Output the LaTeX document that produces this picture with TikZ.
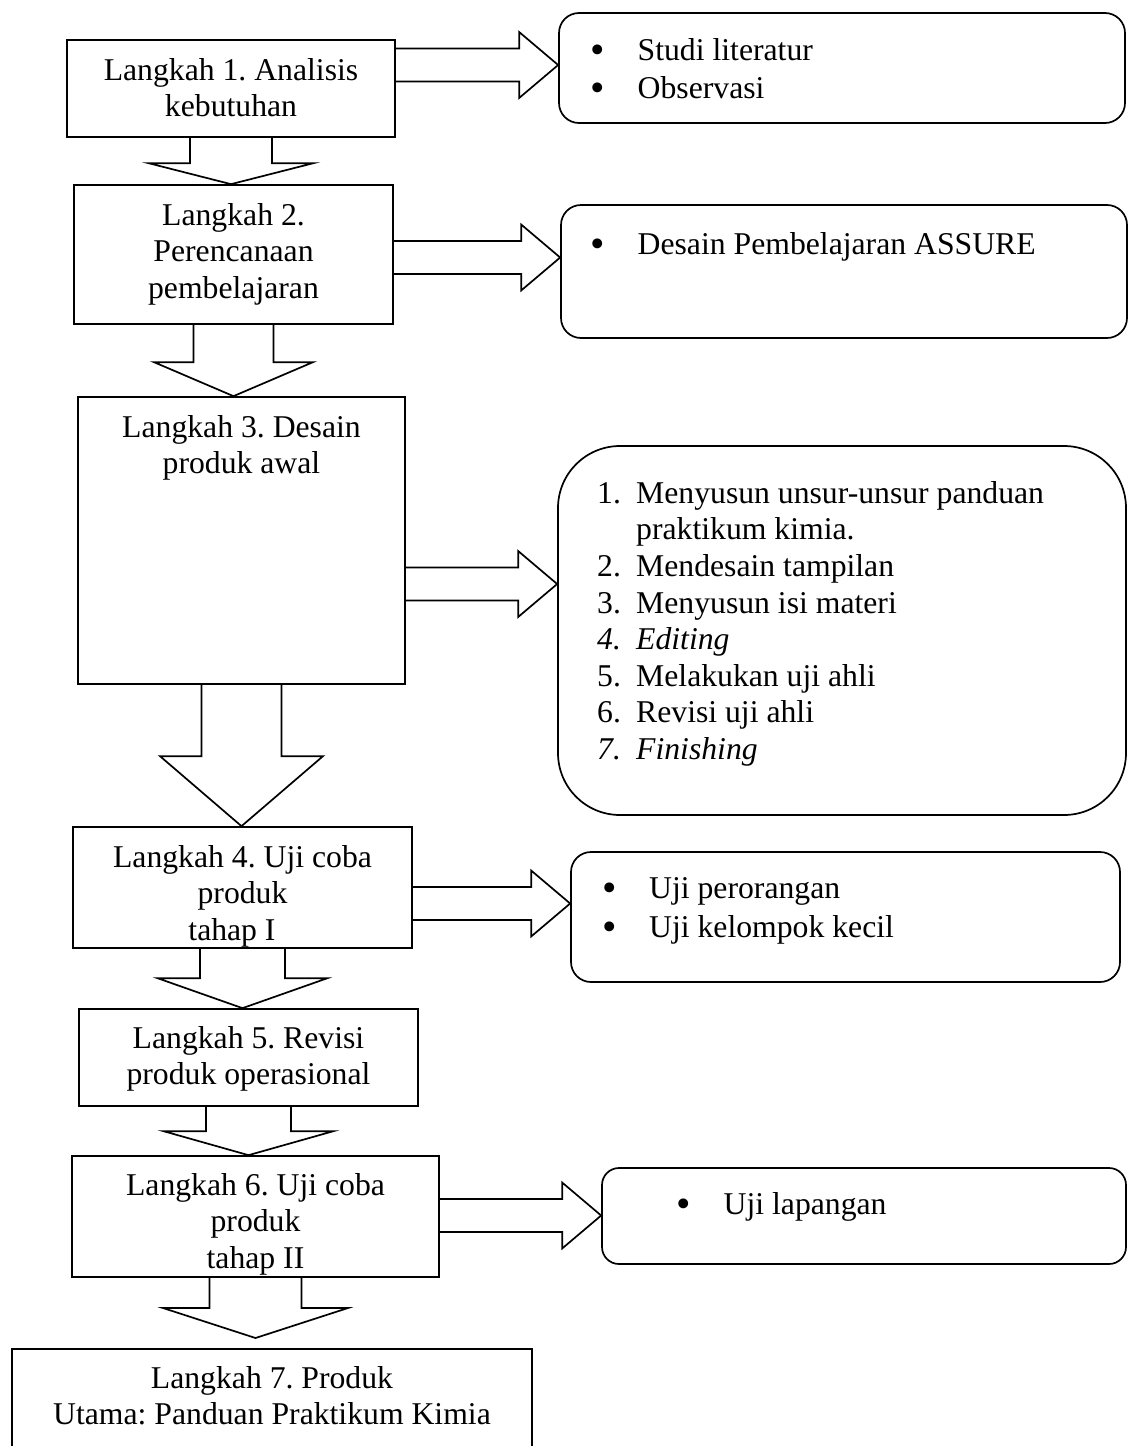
\documentclass[tikz,border=0pt]{standalone}
\usepackage{fontspec}
\setmainfont{Liberation Serif}
\usetikzlibrary{calc}

\newcommand{\stepfont}{\fontsize{31.7}{36.6}\selectfont\frenchspacing}
\newcommand{\bul}{\makebox[47pt][l]{\smash{\raisebox{-3.5pt}{\scalebox{1.3}{\textbullet}}}}}
\newcommand{\listnum}[1]{\makebox[39pt][l]{#1}}

% block arrow to the right: #1 left box, #2 right box, #3 height of the axis
\newcommand{\rightblock}[3]{%
  \draw[blockline] ($(#1.east |- 0,#3)+(0,-16.5)$) -- ($(#2.west |- 0,#3)+(-39,-16.5)$)
    -- ($(#2.west |- 0,#3)+(-39,-33)$) -- (#2.west |- 0,#3) -- ($(#2.west |- 0,#3)+(-39,33)$)
    -- ($(#2.west |- 0,#3)+(-39,16.5)$) -- ($(#1.east |- 0,#3)+(0,16.5)$);
}
% block arrow downwards: #1 upper box, #2 tip, #3 head length, #4 half shaft, #5 half head
\newcommand{\downblock}[5]{%
  \draw[blockline] ($(#1.south)+(-#4,0)$) -- ($(#1.south |- #2)+(-#4,-#3)$)
    -- ($(#1.south |- #2)+(-#5,-#3)$) -- (#1.south |- #2) -- ($(#1.south |- #2)+(#5,-#3)$)
    -- ($(#1.south |- #2)+(#4,-#3)$) -- ($(#1.south)+(#4,0)$);
}

\tikzset{
  stepbox/.style={draw, line width=1.7pt, inner sep=0pt},
  sidebox/.style={draw, line width=1.7pt, inner sep=0pt, rounded corners=20pt},
  steptext/.style={anchor=north, inner sep=0pt, align=center, font=\stepfont},
  listtext/.style={anchor=north west, inner sep=0pt, align=left, font=\stepfont},
  blockline/.style={line width=1.7pt, line join=miter}
}

\begin{document}
\begin{tikzpicture}[x=1pt, y=-1pt]
  \useasboundingbox (0,0) rectangle (1128,1446);

  \node[stepbox, minimum width=328pt, minimum height=97pt] (b1) at (231,88.5) {};
  \node[stepbox, minimum width=319pt, minimum height=139pt] (b2) at (233.5,254.5) {};
  \node[stepbox, minimum width=327pt, minimum height=287pt] (b3) at (241.5,540.5) {};
  \node[stepbox, minimum width=339pt, minimum height=121pt] (b4) at (242.5,887.5) {};
  \node[stepbox, minimum width=339pt, minimum height=97pt] (b5) at (248.5,1057.5) {};
  \node[stepbox, minimum width=367pt, minimum height=121pt] (b6) at (255.5,1216.5) {};
  \node[stepbox, minimum width=520pt, minimum height=121pt] (b7) at (272,1409.5) {};

  \node[steptext] (t1) at (231,54.4) {\strut Langkah 1. Analisis\\kebutuhan};
  \node[steptext] (t2) at (233.5,199.4) {\strut Langkah 2.\\Perencanaan\\pembelajaran};
  \node[steptext] (t3) at (241.5,411.4) {\strut Langkah 3. Desain\\produk awal};
  \node[steptext] (t4) at (242.5,841.4) {\strut Langkah 4. Uji coba\\produk\\tahap I\hspace*{21pt}};
  \node[steptext] (t5) at (248.5,1022.4) {\strut Langkah 5. Revisi\\produk operasional};
  \node[steptext] (t6) at (255.5,1169.4) {\strut Langkah 6. Uji coba\\produk\\tahap II};
  \node[steptext] (t7) at (272,1362.4) {\strut Langkah 7. Produk\\Utama: Panduan Praktikum Kimia};

  \node[sidebox, minimum width=566pt, minimum height=110pt] (r1) at (842,68) {};
  \node[sidebox, minimum width=566pt, minimum height=133pt] (r2) at (844,271.5) {};
  \node[sidebox, rounded corners=62pt, minimum width=568pt, minimum height=369pt] (r3) at (842,630.5) {};
  \node[sidebox, minimum width=549pt, minimum height=130pt] (r4) at (845.5,917) {};
  \node[sidebox, rounded corners=17pt, minimum width=524pt, minimum height=96pt] (r6) at (864,1216) {};

  \node[listtext] (l1) at (590.5,34.4) {\strut\bul Studi literatur\\[1.5pt]\bul Observasi};
  \node[listtext] (l2) at (590.5,228.4) {\strut\bul Desain Pembelajaran ASSURE};
  \node[listtext] (l3) at (597,477.4) {\strut\listnum{1.}Menyusun unsur-unsur panduan\\
    \listnum{}praktikum kimia.\\
    \listnum{2.}Mendesain tampilan\\
    \listnum{3.}Menyusun isi materi\\
    {\itshape\listnum{4.}Editing}\\
    \listnum{5.}Melakukan uji ahli\\
    \listnum{6.}Revisi uji ahli\\
    {\itshape\listnum{7.}Finishing}};
  \node[listtext] (l4) at (602,872.4) {\strut\bul Uji perorangan\\[2.5pt]\bul Uji kelompok kecil};
  \node[listtext] (l6) at (676.5,1188.4) {\strut\bul Uji lapangan};

  \coordinate (tip6) at (255.5,1338);

  \downblock{b1}{b2.north}{21}{41}{82.5}
  \downblock{b2}{b3.north}{34}{40}{79.5}
  \downblock{b3}{b4.north}{70}{40}{81.5}
  \downblock{b4}{b5.north}{30}{42.5}{85}
  \downblock{b5}{b6.north}{24}{42.5}{85}
  \downblock{b6}{tip6}{30}{46}{92.5}

  \rightblock{b1}{r1}{65}
  \rightblock{b2}{r2}{257.5}
  \rightblock{b3}{r3}{584}
  \rightblock{b4}{r4}{903.5}
  \rightblock{b6}{r6}{1215.5}
\end{tikzpicture}
\end{document}
